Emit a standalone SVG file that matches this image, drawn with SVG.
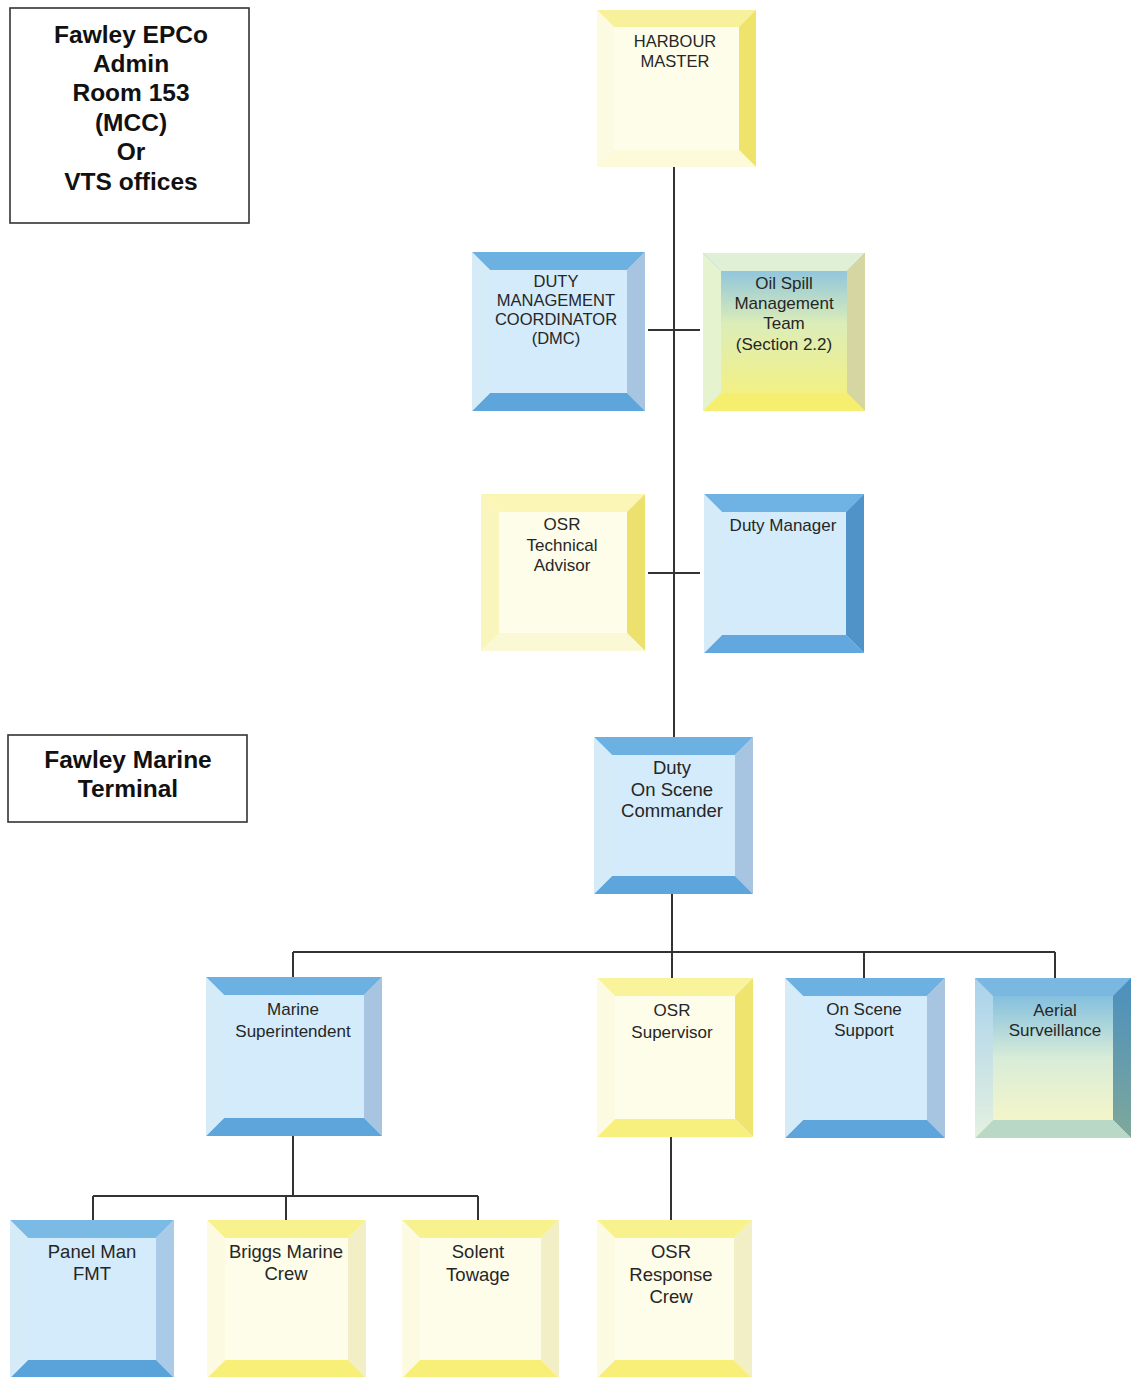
<svg xmlns="http://www.w3.org/2000/svg" width="1131" height="1377" viewBox="0 0 1131 1377">
<defs>
<linearGradient id="gOil" x1="0" y1="0" x2="0" y2="1">
<stop offset="0" stop-color="#78b9e8"/><stop offset="0.45" stop-color="#dcedb8"/><stop offset="1" stop-color="#f8f177"/>
</linearGradient>
<linearGradient id="gAir" x1="0" y1="0" x2="0" y2="1">
<stop offset="0" stop-color="#6cb3e0"/><stop offset="0.5" stop-color="#d8ecd8"/><stop offset="1" stop-color="#fbf8c4"/>
</linearGradient>
<linearGradient id="gAirR" x1="0" y1="0" x2="0" y2="1">
<stop offset="0" stop-color="#4a8fbf"/><stop offset="1" stop-color="#7fa89a"/>
</linearGradient>
<linearGradient id="gAirL" x1="0" y1="0" x2="0" y2="1">
<stop offset="0" stop-color="#a9d2ec"/><stop offset="1" stop-color="#e4f1e0"/>
</linearGradient>
</defs>
<style>
.hdr{font-family:"Liberation Sans",Arial,sans-serif;font-weight:bold;font-size:24.5px;fill:#111;text-anchor:middle}
.lbl{font-family:"Liberation Sans",Arial,sans-serif;font-size:17px;fill:#262626;text-anchor:middle}
.big{font-size:18.5px}
.cap{font-size:16.5px}
.frame{fill:#fff;stroke:#333;stroke-width:1.6}
.conn{stroke:#333;stroke-width:2;fill:none}
.bf{fill:#d3ebfa}.bt{fill:#6db0e2}.br{fill:#a7c4e0}.bb{fill:#5ea5dc}.bl{fill:#d6ebf8}
.yf{fill:#fefde9}.yl{fill:#fcfbe2}
</style>

<g id="legend-epco">
<rect class="frame" x="10" y="8" width="239" height="215"/>
<text class="hdr" x="131" y="43">Fawley EPCo</text>
<text class="hdr" x="131" y="72">Admin</text>
<text class="hdr" x="131" y="101">Room 153</text>
<text class="hdr" x="131" y="131">(MCC)</text>
<text class="hdr" x="131" y="160">Or</text>
<text class="hdr" x="131" y="190">VTS offices</text>
</g>
<g id="legend-terminal">
<rect class="frame" x="8" y="735" width="239" height="87"/>
<text class="hdr" x="128" y="768">Fawley Marine</text>
<text class="hdr" x="128" y="797">Terminal</text>
</g>

<g id="connectors">
<path class="conn" d="M674 167V737M648 330H700M648 573H700"/>
<path class="conn" d="M672 894V952M293 952H1055M293 952V977M672 952V978M864 952V978M1055 952V978"/>
<path class="conn" d="M293 1136V1196M93 1196H478M93 1196V1220M286 1196V1220M478 1196V1220"/>
<path class="conn" d="M671 1137V1220"/>
</g>

<g id="harbour-master">
<rect class="yf" x="597" y="10" width="159" height="157"/>
<polygon fill="#f7f19b" points="597,10 756,10 739,27 614,27"/>
<polygon fill="#eee46b" points="756,10 756,167 739,150 739,27"/>
<polygon fill="#fcfad8" points="597,167 756,167 739,150 614,150"/>
<polygon class="yl" points="597,10 614,27 614,150 597,167"/>
<text class="lbl cap" x="675" y="47">HARBOUR</text>
<text class="lbl cap" x="675" y="67">MASTER</text>
</g>

<g id="dmc">
<rect class="bf" x="472" y="252" width="173" height="159"/>
<polygon class="bt" points="472,252 645,252 627,270 490,270"/>
<polygon class="br" points="645,252 645,411 627,393 627,270"/>
<polygon class="bb" points="472,411 645,411 627,393 490,393"/>
<polygon class="bl" points="472,252 490,270 490,393 472,411"/>
<text class="lbl cap" x="556" y="287">DUTY</text>
<text class="lbl cap" x="556" y="306">MANAGEMENT</text>
<text class="lbl cap" x="556" y="325">COORDINATOR</text>
<text class="lbl cap" x="556" y="344">(DMC)</text>
</g>

<g id="oil-spill">
<rect fill="url(#gOil)" x="703" y="253" width="162" height="158"/>
<polygon fill="#dff0d6" points="703,253 865,253 847,271 721,271"/>
<polygon fill="#d6d6a2" points="865,253 865,411 847,393 847,271"/>
<polygon fill="#f6ee6e" points="703,411 865,411 847,393 721,393"/>
<polygon fill="#e6f3cf" points="703,253 721,271 721,393 703,411"/>
<text class="lbl" x="784" y="289">Oil Spill</text>
<text class="lbl" x="784" y="309">Management</text>
<text class="lbl" x="784" y="329">Team</text>
<text class="lbl" x="784" y="350">(Section 2.2)</text>
</g>

<g id="osr-technical-advisor">
<rect class="yf" x="481" y="494" width="164" height="157"/>
<polygon fill="#fbf6b5" points="481,494 645,494 627,512 499,512"/>
<polygon fill="#ede16e" points="645,494 645,651 627,633 627,512"/>
<polygon fill="#fbf8d5" points="481,651 645,651 627,633 499,633"/>
<polygon fill="#faf5bd" points="481,494 499,512 499,633 481,651"/>
<text class="lbl" x="562" y="530">OSR</text>
<text class="lbl" x="562" y="551">Technical</text>
<text class="lbl" x="562" y="571">Advisor</text>
</g>

<g id="duty-manager">
<rect class="bf" x="704" y="494" width="160" height="159"/>
<polygon fill="#6fb2e4" points="704,494 864,494 846,512 722,512"/>
<polygon fill="#4f93c9" points="864,494 864,653 846,635 846,512"/>
<polygon fill="#62a7dd" points="704,653 864,653 846,635 722,635"/>
<polygon class="bl" points="704,494 722,512 722,635 704,653"/>
<text class="lbl" x="783" y="531">Duty Manager</text>
</g>

<g id="duty-osc">
<rect class="bf" x="594" y="737" width="159" height="157"/>
<polygon class="bt" points="594,737 753,737 735,755 612,755"/>
<polygon class="br" points="753,737 753,894 735,876 735,755"/>
<polygon class="bb" points="594,894 753,894 735,876 612,876"/>
<polygon class="bl" points="594,737 612,755 612,876 594,894"/>
<text class="lbl big" x="672" y="774">Duty</text>
<text class="lbl big" x="672" y="796">On Scene</text>
<text class="lbl big" x="672" y="817">Commander</text>
</g>

<g id="marine-superintendent">
<rect class="bf" x="206" y="977" width="176" height="159"/>
<polygon class="bt" points="206,977 382,977 364,995 224,995"/>
<polygon class="br" points="382,977 382,1136 364,1118 364,995"/>
<polygon class="bb" points="206,1136 382,1136 364,1118 224,1118"/>
<polygon class="bl" points="206,977 224,995 224,1118 206,1136"/>
<text class="lbl" x="293" y="1015">Marine</text>
<text class="lbl" x="293" y="1037">Superintendent</text>
</g>

<g id="osr-supervisor">
<rect class="yf" x="597" y="978" width="156" height="159"/>
<polygon fill="#f9f39c" points="597,978 753,978 735,996 615,996"/>
<polygon fill="#efe46e" points="753,978 753,1137 735,1119 735,996"/>
<polygon fill="#f7f07e" points="597,1137 753,1137 735,1119 615,1119"/>
<polygon class="yl" points="597,978 615,996 615,1119 597,1137"/>
<text class="lbl" x="672" y="1016">OSR</text>
<text class="lbl" x="672" y="1038">Supervisor</text>
</g>

<g id="on-scene-support">
<rect class="bf" x="785" y="978" width="160" height="160"/>
<polygon class="bt" points="785,978 945,978 927,996 803,996"/>
<polygon class="br" points="945,978 945,1138 927,1120 927,996"/>
<polygon class="bb" points="785,1138 945,1138 927,1120 803,1120"/>
<polygon class="bl" points="785,978 803,996 803,1120 785,1138"/>
<text class="lbl" x="864" y="1015">On Scene</text>
<text class="lbl" x="864" y="1036">Support</text>
</g>

<g id="aerial-surveillance">
<rect fill="url(#gAir)" x="975" y="978" width="156" height="160"/>
<polygon fill="#7ab8e2" points="975,978 1131,978 1113,996 993,996"/>
<polygon fill="url(#gAirR)" points="1131,978 1131,1138 1113,1120 1113,996"/>
<polygon fill="#b9d9c6" points="975,1138 1131,1138 1113,1120 993,1120"/>
<polygon fill="url(#gAirL)" points="975,978 993,996 993,1120 975,1138"/>
<text class="lbl" x="1055" y="1016">Aerial</text>
<text class="lbl" x="1055" y="1036">Surveillance</text>
</g>

<g id="panel-man-fmt">
<rect class="bf" x="10" y="1220" width="164" height="158"/>
<polygon fill="#7cbae6" points="10,1220 174,1220 156,1238 28,1238"/>
<polygon fill="#a9cbe8" points="174,1220 174,1378 156,1360 156,1238"/>
<polygon fill="#5aa2da" points="10,1378 174,1378 156,1360 28,1360"/>
<polygon class="bl" points="10,1220 28,1238 28,1360 10,1378"/>
<text class="lbl big" x="92" y="1258">Panel Man</text>
<text class="lbl big" x="92" y="1280">FMT</text>
</g>

<g id="briggs-marine-crew">
<rect class="yf" x="207" y="1220" width="159" height="158"/>
<polygon fill="#f8f28e" points="207,1220 366,1220 348,1238 225,1238"/>
<polygon fill="#f2eec6" points="366,1220 366,1378 348,1360 348,1238"/>
<polygon fill="#f7ef78" points="207,1378 366,1378 348,1360 225,1360"/>
<polygon class="yl" points="207,1220 225,1238 225,1360 207,1378"/>
<text class="lbl big" x="286" y="1258">Briggs Marine</text>
<text class="lbl big" x="286" y="1280">Crew</text>
</g>

<g id="solent-towage">
<rect class="yf" x="402" y="1220" width="157" height="158"/>
<polygon fill="#f8f28e" points="402,1220 559,1220 541,1238 420,1238"/>
<polygon fill="#f2eec6" points="559,1220 559,1378 541,1360 541,1238"/>
<polygon fill="#f7ef78" points="402,1378 559,1378 541,1360 420,1360"/>
<polygon class="yl" points="402,1220 420,1238 420,1360 402,1378"/>
<text class="lbl big" x="478" y="1258">Solent</text>
<text class="lbl big" x="478" y="1281">Towage</text>
</g>

<g id="osr-response-crew">
<rect class="yf" x="597" y="1220" width="155" height="158"/>
<polygon fill="#f8f28e" points="597,1220 752,1220 734,1238 615,1238"/>
<polygon fill="#f2eec6" points="752,1220 752,1378 734,1360 734,1238"/>
<polygon fill="#f7ef78" points="597,1378 752,1378 734,1360 615,1360"/>
<polygon class="yl" points="597,1220 615,1238 615,1360 597,1378"/>
<text class="lbl big" x="671" y="1258">OSR</text>
<text class="lbl big" x="671" y="1281">Response</text>
<text class="lbl big" x="671" y="1303">Crew</text>
</g>
</svg>
